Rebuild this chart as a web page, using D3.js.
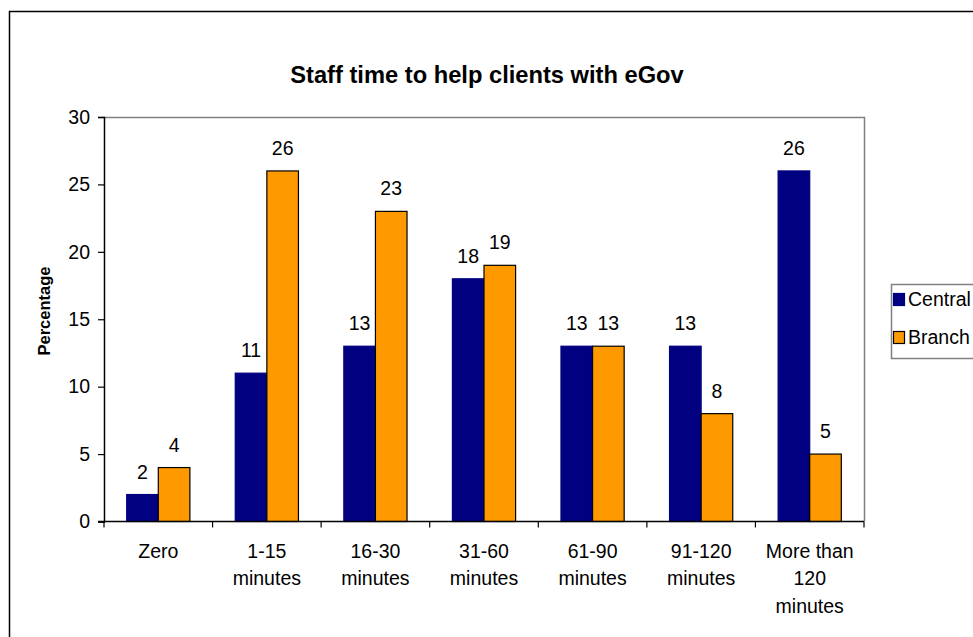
<!DOCTYPE html>
<html>
<head>
<meta charset="utf-8">
<script src="https://cdn.jsdelivr.net/npm/d3@7"></script>
<style>
  html, body { margin: 0; padding: 0; background: #fff; }
  svg { display: block; font-family: "Liberation Sans", Arial, sans-serif; }
</style>
</head>
<body>
<svg id="chart" width="973" height="637"></svg>
<script>
const categories = [["Zero"], ["1-15", "minutes"], ["16-30", "minutes"], ["31-60", "minutes"], ["61-90", "minutes"], ["91-120", "minutes"], ["More than", "120", "minutes"]];
const seriesNames = ["Central", "Branch"];
const central = [2, 11, 13, 18, 13, 13, 26];
const branch = [4, 26, 23, 19, 13, 8, 5];
const yTicks = [0, 5, 10, 15, 20, 25, 30];
const chartTitle = "Staff time to help clients with eGov";
const yTitle = "Percentage";

const colors = { Central: "#000080", Branch: "#FF9900" };
const strokes = { Central: "#000080", Branch: "#000000" };
const FS = 19.5;

const svg = d3.select("#chart");
svg.append("rect").attr("width", 973).attr("height", 637).attr("fill", "#fff");
svg.append("rect").attr("x", 9.5).attr("y", 11.5).attr("width", 1200).attr("height", 900)
  .attr("fill", "none").attr("stroke", "#000").attr("stroke-width", 1.5);

const pL = 104, pR = 864, pT = 117, pB = 521.5;
const catKeys = categories.map(c => c.join(" "));
const x0 = d3.scaleBand().domain(catKeys).range([pL, pR]).padding(0);
const x1 = d3.scaleBand().domain(seriesNames).range([0, x0.bandwidth()]).paddingInner(0).paddingOuter(0.718);
const y = d3.scaleLinear().domain([0, 30]).range([pB, pT]);

svg.append("path")
  .attr("d", `M${pL},${pT + 0.5}H${pR + 0.5}V${pB}`)
  .attr("fill", "none").attr("stroke", "#808080").attr("stroke-width", 1.5);

svg.append("text").attr("x", 487).attr("y", 83).attr("text-anchor", "middle")
  .attr("font-weight", "bold").attr("font-size", 23.7).text(chartTitle);

const data = categories.map((c, i) => ({ key: catKeys[i], values: [{ s: "Central", v: central[i] }, { s: "Branch", v: branch[i] }] }));
const g = svg.append("g");
const groups = g.selectAll("g.cat").data(data).join("g").attr("class", "cat")
  .attr("transform", d => `translate(${x0(d.key)},0)`);
groups.selectAll("rect").data(d => d.values).join("rect")
  .attr("x", d => x1(d.s))
  .attr("y", d => y(d.v))
  .attr("width", x1.bandwidth())
  .attr("height", d => y(0) - y(d.v))
  .attr("fill", d => colors[d.s])
  .attr("stroke", d => strokes[d.s])
  .attr("stroke-width", 1.2);
groups.selectAll("text.val").data(d => d.values).join("text").attr("class", "val")
  .attr("x", d => x1(d.s) + x1.bandwidth() / 2)
  .attr("y", d => y(d.v) - 16)
  .attr("text-anchor", "middle").attr("font-size", FS).attr("fill", "#000")
  .text(d => d.v);

const yAxis = d3.axisLeft(y).tickValues(yTicks).tickSize(6).tickPadding(8);
const ya = svg.append("g").attr("transform", `translate(${pL},0)`).call(yAxis);
ya.select(".domain").attr("stroke", "#000").attr("stroke-width", 1.5);
ya.selectAll(".tick line").attr("stroke", "#000").attr("stroke-width", 1.2);
ya.selectAll(".tick text").attr("font-size", FS).attr("fill", "#000").attr("font-family", "Liberation Sans, Arial, sans-serif");

const xa = svg.append("g").attr("transform", `translate(0,${pB})`);
xa.append("line").attr("x1", pL - 6).attr("x2", pR).attr("y1", 0).attr("y2", 0)
  .attr("stroke", "#000").attr("stroke-width", 1.5);
const boundaries = catKeys.map(k => x0(k)).concat([pR]);
xa.selectAll("line.tk").data(boundaries).join("line").attr("class", "tk")
  .attr("x1", d => d).attr("x2", d => d).attr("y1", 0).attr("y2", 6)
  .attr("stroke", "#000").attr("stroke-width", 1.2);
const labels = xa.selectAll("text.xl").data(categories).join("text").attr("class", "xl")
  .attr("text-anchor", "middle").attr("font-size", FS).attr("fill", "#000")
  .attr("x", (d, i) => x0(catKeys[i]) + x0.bandwidth() / 2);
labels.selectAll("tspan").data(d => d).join("tspan")
  .attr("x", function () { return d3.select(this.parentNode).attr("x"); })
  .attr("y", (d, i) => 36 + i * 27.5)
  .text(d => d);

svg.append("text").attr("transform", `translate(50,311) rotate(-90)`)
  .attr("text-anchor", "middle").attr("font-weight", "bold").attr("font-size", 16.5).text(yTitle);

const lg = svg.append("g");
lg.append("rect").attr("x", 891.5).attr("y", 284.5).attr("width", 200).attr("height", 74)
  .attr("fill", "#fff").attr("stroke", "#808080").attr("stroke-width", 1.5);
const items = lg.selectAll("g.li").data(seriesNames).join("g").attr("class", "li")
  .attr("transform", (d, i) => `translate(0,${i * 38})`);
items.append("rect").attr("x", 893.5).attr("y", 293.5).attr("width", 11).attr("height", 12)
  .attr("fill", d => colors[d]).attr("stroke", d => strokes[d]).attr("stroke-width", 1.2);
items.append("text").attr("x", 908).attr("y", 306).attr("font-size", FS).attr("fill", "#000").text(d => d);
</script>
</body>
</html>
